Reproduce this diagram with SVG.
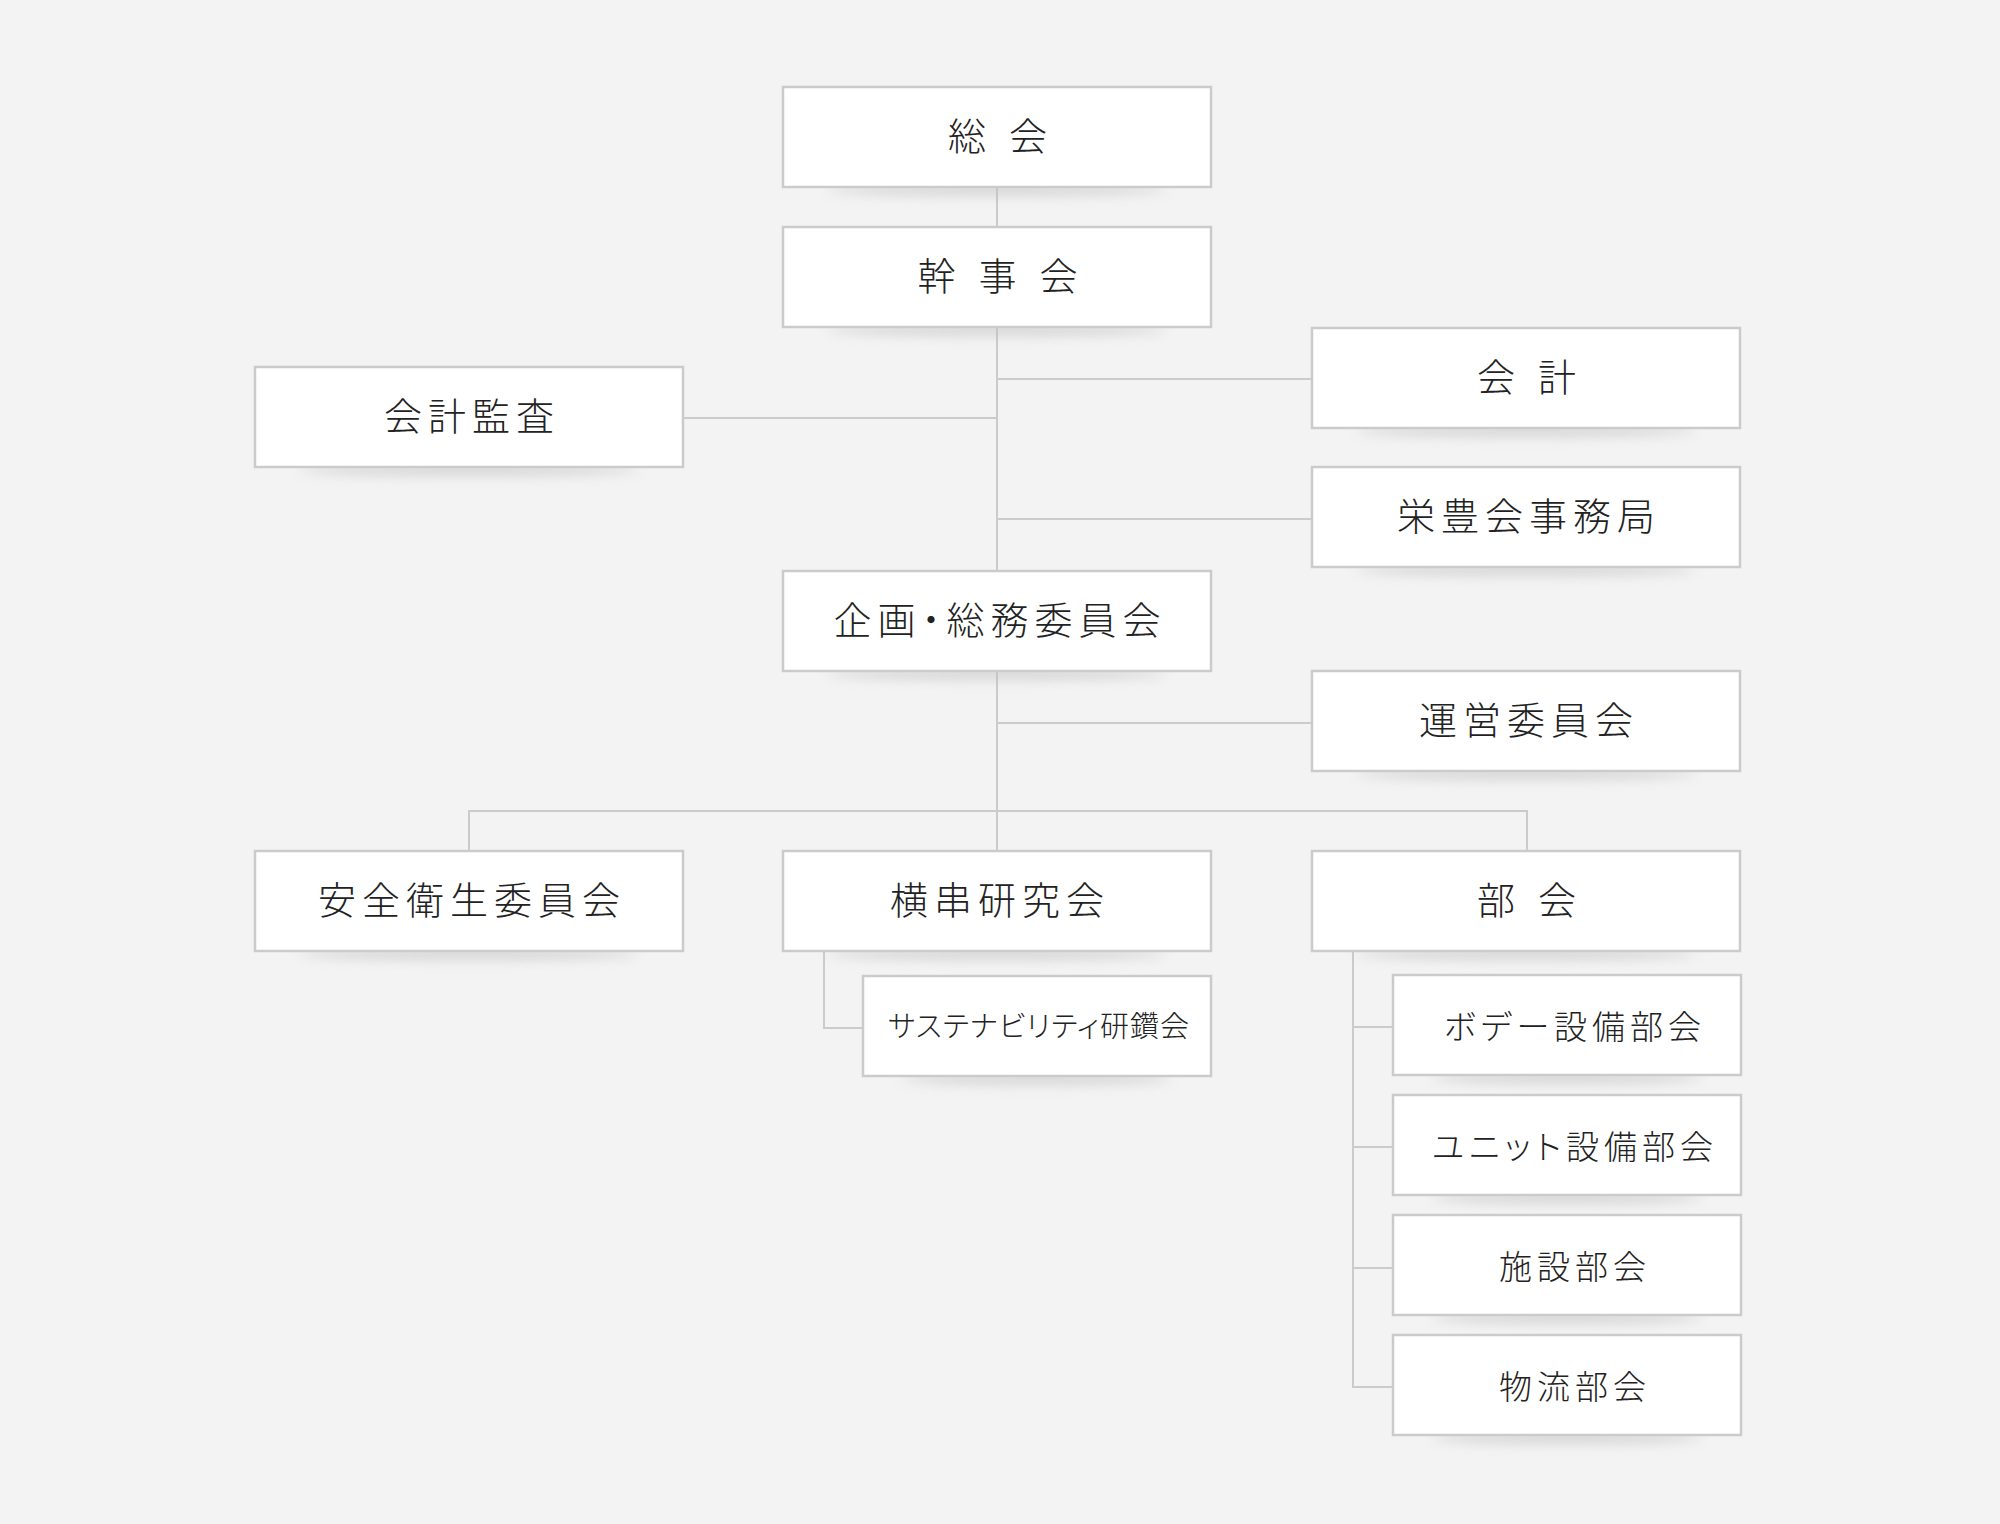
<svg xmlns="http://www.w3.org/2000/svg" width="2000" height="1524" viewBox="0 0 2000 1524">
<defs>
<filter id="sh" x="-20%" y="-200%" width="140%" height="500%"><feGaussianBlur stdDeviation="6"/></filter>
<style>
.b{fill:#fff;stroke:#cbcbcb;stroke-width:2.5}
.s{fill:#bdbdbd;opacity:.55;filter:url(#sh)}
.t{font-family:"Noto Sans CJK JP","Noto Sans",sans-serif;font-weight:300;font-size:38px;fill:#222;text-anchor:middle;letter-spacing:6px}
.w{letter-spacing:23px}
.m{font-size:33px;letter-spacing:5px}
.n{font-size:29px;letter-spacing:1px}
.p{font-feature-settings:"palt" 1}
.c line,.c path{stroke:#cbcbcb;stroke-width:2;fill:none}
</style>
</defs>
<rect width="2000" height="1524" fill="#f3f3f3"/>
<g class="c">
<line x1="997" y1="187" x2="997" y2="227"/>
<line x1="997" y1="327" x2="997" y2="571"/>
<line x1="997" y1="671" x2="997" y2="851"/>
<line x1="997" y1="379" x2="1312" y2="379"/>
<line x1="682" y1="418" x2="997" y2="418"/>
<line x1="997" y1="519" x2="1312" y2="519"/>
<line x1="997" y1="723" x2="1312" y2="723"/>
<path d="M469 851V811H1527V851"/>
<path d="M824 951V1028H863"/>
<path d="M1353 951V1387H1393"/>
<line x1="1353" y1="1027" x2="1393" y2="1027"/>
<line x1="1353" y1="1147" x2="1393" y2="1147"/>
<line x1="1353" y1="1268" x2="1393" y2="1268"/>
</g>
<g id="n1"><ellipse class="s" cx="997" cy="190" rx="170" ry="6"/><rect class="b" x="783" y="87" width="428" height="100"/><text class="t w" x="1009" y="150">総会</text></g>
<g id="n2"><ellipse class="s" cx="997" cy="330" rx="170" ry="6"/><rect class="b" x="783" y="227" width="428" height="100"/><text class="t w" x="1009" y="290">幹事会</text></g>
<g id="n3"><ellipse class="s" cx="1526" cy="431" rx="170" ry="6"/><rect class="b" x="1312" y="328" width="428" height="100"/><text class="t w" x="1538" y="391">会計</text></g>
<g id="n4"><ellipse class="s" cx="469" cy="470" rx="170" ry="6"/><rect class="b" x="255" y="367" width="428" height="100"/><text class="t" x="472" y="430">会計監査</text></g>
<g id="n5"><ellipse class="s" cx="1526" cy="570" rx="170" ry="6"/><rect class="b" x="1312" y="467" width="428" height="100"/><text class="t" x="1529" y="530">栄豊会事務局</text></g>
<g id="n6"><ellipse class="s" cx="997" cy="674" rx="170" ry="6"/><rect class="b" x="783" y="571" width="428" height="100"/><text class="t p" x="1000" y="634">企画・総務委員会</text></g>
<g id="n7"><ellipse class="s" cx="1526" cy="774" rx="170" ry="6"/><rect class="b" x="1312" y="671" width="428" height="100"/><text class="t" x="1529" y="734">運営委員会</text></g>
<g id="n8"><ellipse class="s" cx="469" cy="954" rx="170" ry="6"/><rect class="b" x="255" y="851" width="428" height="100"/><text class="t" x="472" y="914">安全衛生委員会</text></g>
<g id="n9"><ellipse class="s" cx="997" cy="954" rx="170" ry="6"/><rect class="b" x="783" y="851" width="428" height="100"/><text class="t" x="1000" y="914">横串研究会</text></g>
<g id="n10"><ellipse class="s" cx="1526" cy="954" rx="170" ry="6"/><rect class="b" x="1312" y="851" width="428" height="100"/><text class="t w" x="1538" y="914">部会</text></g>
<g id="n11"><ellipse class="s" cx="1037" cy="1079" rx="135" ry="6"/><rect class="b" x="863" y="976" width="348" height="100"/><text class="t n p" x="1039" y="1037">サステナビリティ研鑽会</text></g>
<g id="n12"><ellipse class="s" cx="1567" cy="1078" rx="135" ry="6"/><rect class="b" x="1393" y="975" width="348" height="100"/><text class="t m p" x="1575" y="1039">ボデー設備部会</text></g>
<g id="n13"><ellipse class="s" cx="1567" cy="1198" rx="135" ry="6"/><rect class="b" x="1393" y="1095" width="348" height="100"/><text class="t m p" x="1575" y="1159">ユニット設備部会</text></g>
<g id="n14"><ellipse class="s" cx="1567" cy="1318" rx="135" ry="6"/><rect class="b" x="1393" y="1215" width="348" height="100"/><text class="t m" x="1575" y="1279">施設部会</text></g>
<g id="n15"><ellipse class="s" cx="1567" cy="1438" rx="135" ry="6"/><rect class="b" x="1393" y="1335" width="348" height="100"/><text class="t m" x="1575" y="1399">物流部会</text></g>
</svg>
